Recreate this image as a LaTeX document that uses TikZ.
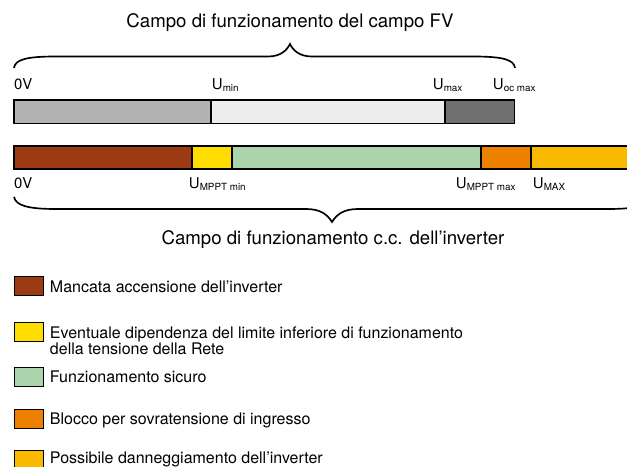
\documentclass[tikz,border=0pt]{standalone}
\usepackage{fontspec}
\setmainfont{TeX Gyre Heros}
\usetikzlibrary{positioning}
\definecolor{grigioChiaro}{HTML}{B3B3B3}
\definecolor{grigioTenue}{HTML}{ECEDEC}
\definecolor{grigioScuro}{HTML}{6F6F6F}
\definecolor{marrone}{HTML}{9C3B13}
\definecolor{giallo}{HTML}{FFDD00}
\definecolor{verde}{HTML}{ACD4AC}
\definecolor{arancio}{HTML}{EE8000}
\definecolor{ambra}{HTML}{F9B900}
\newcommand{\pedice}[1]{\raisebox{-1.6pt}{\fontsize{5.6}{6}\selectfont #1}}

\begin{document}
\begin{tikzpicture}[
  x=0.02cm,y=-0.02cm,
  every node/.style={inner sep=0pt,outer sep=0pt},
  seg/.style={draw=black,line width=0.85pt},
  lab/.style={anchor=base west,font=\fontsize{8.5}{10}\selectfont},
  titolo/.style={font=\fontsize{10.6}{12}\selectfont},
  graffa/.style={line width=0.95pt},
  chiave/.style={draw=black,line width=1.1pt,minimum width=0.58cm,minimum height=0.38cm},
  legenda/.style={anchor=west,align=left,font=\fontsize{9.1}{9.2}\selectfont}
]
  \useasboundingbox (0,0) rectangle (627,467);

  % campo FV
  \node[titolo] (titoloFV) at (290,23) {Campo di funzionamento del campo FV};
  \draw[graffa] (14,68) .. controls (15,60) and (25,56.5) .. (55,56.5)
    -- (268,56.5) .. controls (281,56.5) and (287,50) .. (290,44)
    .. controls (293,50) and (299,56.5) .. (312,56.5)
    -- (474,56.5) .. controls (504,56.5) and (514,60) .. (515,68);

  \node[lab] (fv0)    at (14,89)  {0V};
  \node[lab] (fvmin)  at (212,89) {U\pedice{min}};
  \node[lab] (fvmax)  at (433,89) {U\pedice{max}};
  \node[lab] (fvoc)   at (493,89) {U\pedice{oc max}};

  \draw[seg,fill=grigioChiaro] (14,100) rectangle (211,123.5);
  \draw[seg,fill=grigioTenue]  (211,100) rectangle (445,123.5);
  \draw[seg,fill=grigioScuro]  (445,100) rectangle (514.5,123.5);

  % campo inverter
  \draw[seg,fill=marrone] (14,146) rectangle (192,169);
  \draw[seg,fill=giallo]  (192,146) rectangle (232,169);
  \draw[seg,fill=verde]   (232,146) rectangle (481,169);
  \draw[seg,fill=arancio] (481,146) rectangle (531,169);
  \draw[seg,fill=ambra]   (531,146) rectangle (640,169);

  \node[lab] (inv0)    at (14,188)  {0V};
  \node[lab] (invmin)  at (189,188) {U\pedice{MPPT min}};
  \node[lab] (invmax)  at (456,188) {U\pedice{MPPT max}};
  \node[lab] (invMAX)  at (533,188) {U\pedice{MAX}};

  \draw[graffa] (14,197) .. controls (16,205) and (26,209) .. (56,209)
    -- (306,209) .. controls (320,209) and (327,214) .. (332,222)
    .. controls (337,214) and (344,209) .. (358,209)
    -- (608,209) .. controls (638,209) and (648,205) .. (650,197);
  \node[titolo] (titoloInv) at (333,240) {Campo di funzionamento c.c. dell’inverter};

  % legenda
  \node[chiave,fill=marrone] (k1) at (29,286) {};
  \node[chiave,fill=giallo]  (k2) at (29,332) {};
  \node[chiave,fill=verde]   (k3) at (29,377) {};
  \node[chiave,fill=arancio] (k4) at (29,419) {};
  \node[chiave,fill=ambra]   (k5) at (29,460) {};

  \node[legenda] (l1) at (50,287) {Mancata accensione dell’inverter};
  \node[legenda] (l2) at (50,341) {Eventuale dipendenza del limite inferiore di funzionamento\\della tensione della Rete};
  \node[legenda] (l3) at (50,377) {Funzionamento sicuro};
  \node[legenda] (l4) at (50,420) {Blocco per sovratensione di ingresso};
  \node[legenda] (l5) at (50,459) {Possibile danneggiamento dell’inverter};
\end{tikzpicture}
\end{document}
